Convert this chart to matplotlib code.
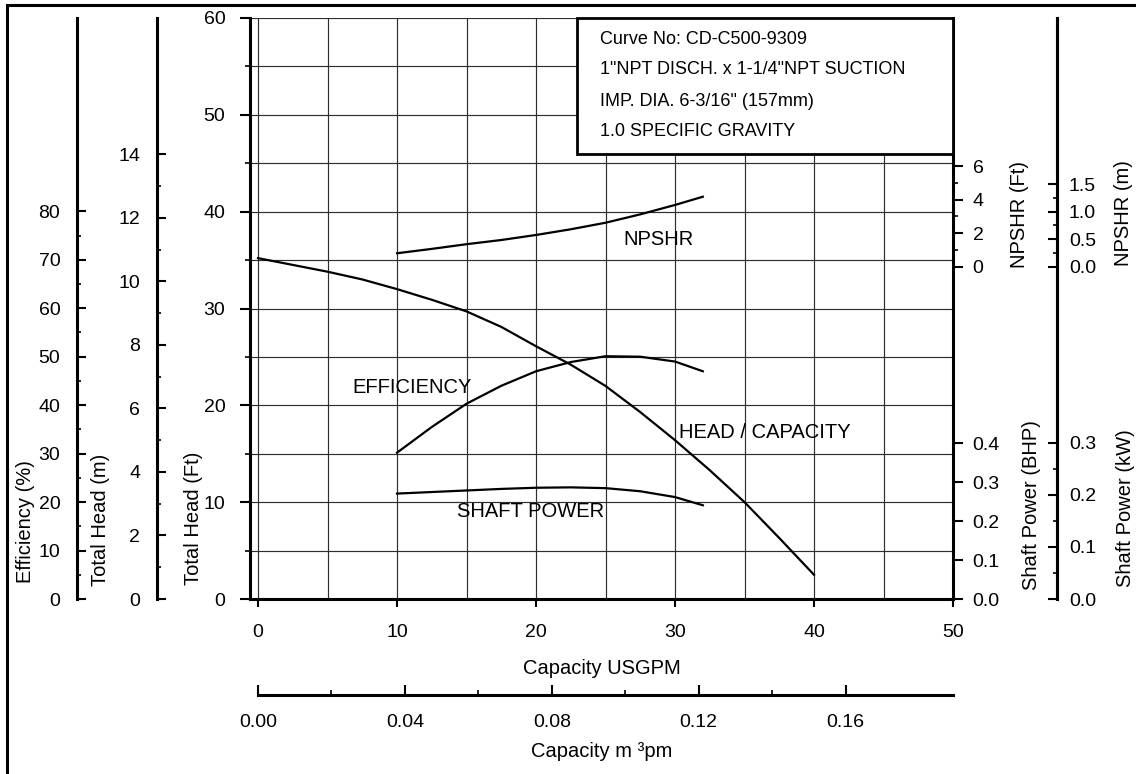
import matplotlib
matplotlib.use("Agg")
import matplotlib.pyplot as plt
from matplotlib.ticker import FixedLocator, FormatStrFormatter
from matplotlib.patches import Rectangle
from matplotlib.lines import Line2D

plt.rcParams['font.family'] = ['Liberation Sans', 'DejaVu Sans']

# ---------------- data ----------------
head_gpm = [0, 2.5, 5, 7.5, 10, 12.5, 15, 17.5, 20, 22.5, 25, 27.5, 30, 32.5, 35, 37.5, 40]
head_ft = [35.2, 34.5, 33.8, 33.0, 32.0, 30.9, 29.7, 28.1, 26.1, 24.2, 22.0, 19.3, 16.4, 13.3, 10.0, 6.3, 2.5]

curve_gpm = [10, 12.5, 15, 17.5, 20, 22.5, 25, 27.5, 30, 32]
efficiency_pct = [30.2, 35.5, 40.3, 44.0, 47.0, 48.9, 50.1, 50.0, 49.0, 47.0]
shaft_bhp = [0.271, 0.275, 0.279, 0.283, 0.286, 0.287, 0.285, 0.277, 0.262, 0.241]
npshr_ft = [0.80, 1.06, 1.34, 1.59, 1.89, 2.23, 2.62, 3.12, 3.68, 4.17]

gpm_ticks = [0, 10, 20, 30, 40, 50]
ft_ticks = [0, 10, 20, 30, 40, 50, 60]
ft_minor = [5, 15, 25, 35, 45, 55]
m_ticks = [0, 2, 4, 6, 8, 10, 12, 14]
m_minor = [1, 3, 5, 7, 9, 11, 13]
eff_ticks = [0, 10, 20, 30, 40, 50, 60, 70, 80]
eff_minor = [5, 15, 25, 35, 45, 55, 65, 75]
npshr_ft_ticks = [0, 2, 4, 6]
npshr_ft_minor = [1, 3, 5]
npshr_m_ticks = [0.0, 0.5, 1.0, 1.5]
npshr_m_minor = [0.25, 0.75, 1.25]
bhp_ticks = [0.0, 0.1, 0.2, 0.3, 0.4]
kw_ticks = [0.0, 0.1, 0.2, 0.3]
kw_minor = [0.05, 0.15, 0.25]
m3_ticks = [0.00, 0.04, 0.08, 0.12, 0.16]
m3_minor = [0.02, 0.06, 0.10, 0.14]

info_lines = ['Curve No: CD-C500-9309',
              '1"NPT DISCH. x 1-1/4"NPT SUCTION',
              'IMP. DIA. 6-3/16" (157mm)',
              '1.0 SPECIFIC GRAVITY']

FT_TO_M = 0.3048
BHP_TO_KW = 0.7457
GPM_TO_M3PM = 0.0037854

# ---------------- layout ----------------
W, H = 1136, 774
fig = plt.figure(figsize=(W / 100, H / 100), dpi=100)
ax = fig.add_axes([250 / W, 1 - 599 / H, 703 / W, 581 / H])

XMIN, XMAX = -0.58, 50
ax.set_xlim(XMIN, XMAX)
ax.set_ylim(0, 60)

SP_LW = 2.2
TICK_FS = 14
LAB_FS = 14.5
ax.spines['top'].set_visible(False)
for s in ['left', 'bottom', 'right']:
    ax.spines[s].set_linewidth(SP_LW)

ax.xaxis.set_major_locator(FixedLocator(gpm_ticks))
ax.xaxis.set_minor_locator(FixedLocator([5, 15, 25, 35, 45]))
ax.xaxis.set_major_formatter(FormatStrFormatter('%d'))
ax.yaxis.set_major_locator(FixedLocator(ft_ticks))
ax.yaxis.set_minor_locator(FixedLocator(ft_minor))
ax.yaxis.set_major_formatter(FormatStrFormatter('%d'))
ax.tick_params(axis='x', which='major', direction='out', length=5.8, width=1.5, pad=12, labelsize=TICK_FS)
ax.tick_params(axis='x', which='minor', length=0)
ax.tick_params(axis='y', which='major', direction='out', length=7.2, width=1.5, pad=10.5, labelsize=TICK_FS)
ax.tick_params(axis='y', which='minor', direction='out', length=3.6, width=1.2)
ax.grid(which='both', color='#2e2e2e', lw=0.85)
ax.set_axisbelow(True)

ax.set_xlabel('Capacity USGPM', fontsize=LAB_FS, va='center')
ax.xaxis.set_label_coords(0.5, -0.1188)
ax.set_ylabel('Total Head (Ft)', fontsize=LAB_FS, va='center', ha='center')
ax.yaxis.set_label_coords(-0.0804, 0.1394)

# head curve
ax.plot(head_gpm, head_ft, color='black', lw=1.6, zorder=4)

# info box
ax.add_patch(Rectangle((0.4651, 0.766), 0.5349, 0.234, transform=ax.transAxes,
                       facecolor='white', edgecolor='black', lw=2.0, zorder=3, clip_on=False))
for ln, yy in zip(info_lines, [0.9633, 0.9105, 0.8571, 0.8055]):
    ax.text(0.4979, yy, ln, transform=ax.transAxes, fontsize=13, ha='left', va='center', zorder=5)

# curve labels
ax.text(26.3, 36.56, 'NPSHR', fontsize=LAB_FS, ha='left', va='baseline', zorder=5)
ax.text(6.75, 21.3, 'EFFICIENCY', fontsize=LAB_FS, ha='left', va='baseline', zorder=5)
ax.text(30.3, 16.6, 'HEAD / CAPACITY', fontsize=LAB_FS, ha='left', va='baseline', zorder=5)
ax.text(14.33, 8.5, 'SHAFT POWER', fontsize=LAB_FS, ha='left', va='baseline', zorder=5)


def hide_spines(a):
    for s in a.spines.values():
        s.set_visible(False)


# efficiency axis
ax_eff = ax.twinx()
hide_spines(ax_eff)
ax_eff.set_ylim(0, 119.9)
ax_eff.spines['left'].set_visible(True)
ax_eff.spines['left'].set_position(('axes', -0.2461))
ax_eff.spines['left'].set_linewidth(SP_LW)
ax_eff.yaxis.set_ticks_position('left')
ax_eff.yaxis.set_label_position('left')
ax_eff.yaxis.set_major_locator(FixedLocator(eff_ticks))
ax_eff.yaxis.set_minor_locator(FixedLocator(eff_minor))
ax_eff.yaxis.set_major_formatter(FormatStrFormatter('%d'))
ax_eff.tick_params(axis='y', which='major', direction='in', length=6.5, width=1.5, pad=12, labelsize=TICK_FS)
ax_eff.tick_params(axis='y', which='minor', direction='in', length=3.2, width=1.2)
ax_eff.set_ylabel('Efficiency (%)', fontsize=LAB_FS, va='center', ha='center')
ax_eff.yaxis.set_label_coords(-0.3193, 0.1325)
ax_eff.plot(curve_gpm, efficiency_pct, color='black', lw=1.6)

# head (m) axis
ax_m = ax.twinx()
hide_spines(ax_m)
ax_m.set_ylim(0, 60 * FT_TO_M)
ax_m.spines['left'].set_visible(True)
ax_m.spines['left'].set_position(('axes', -0.1323))
ax_m.spines['left'].set_linewidth(SP_LW)
ax_m.yaxis.set_ticks_position('left')
ax_m.yaxis.set_label_position('left')
ax_m.yaxis.set_major_locator(FixedLocator(m_ticks))
ax_m.yaxis.set_minor_locator(FixedLocator(m_minor))
ax_m.yaxis.set_major_formatter(FormatStrFormatter('%d'))
ax_m.tick_params(axis='y', which='major', direction='in', length=6.5, width=1.5, pad=12, labelsize=TICK_FS)
ax_m.tick_params(axis='y', which='minor', direction='in', length=3.2, width=1.2)
ax_m.set_ylabel('Total Head (m)', fontsize=LAB_FS, va='center', ha='center')
ax_m.yaxis.set_label_coords(-0.2127, 0.1360)

# NPSHR (ft) axis
NP_LO, NP_HI = -19.82, 14.83
ax_np = ax.twinx()
hide_spines(ax_np)
ax_np.set_ylim(NP_LO, NP_HI)
ax_np.yaxis.set_major_locator(FixedLocator(npshr_ft_ticks))
ax_np.yaxis.set_minor_locator(FixedLocator(npshr_ft_minor))
ax_np.yaxis.set_major_formatter(FormatStrFormatter('%d'))
ax_np.tick_params(axis='y', which='major', direction='out', length=7.2, width=1.5, pad=7, labelsize=TICK_FS)
ax_np.tick_params(axis='y', which='minor', direction='out', length=3.6, width=1.2)
ax_np.set_ylabel('NPSHR (Ft)', fontsize=LAB_FS, va='center', ha='center')
ax_np.yaxis.set_label_coords(1.0953, 0.6610)
ax_np.plot(curve_gpm, npshr_ft, color='black', lw=1.6)

# NPSHR (m) axis
ax_npm = ax.twinx()
hide_spines(ax_npm)
ax_npm.set_ylim(NP_LO * FT_TO_M, NP_HI * FT_TO_M)
ax_npm.spines['right'].set_visible(True)
ax_npm.spines['right'].set_position(('axes', 1.148))
ax_npm.spines['right'].set_linewidth(SP_LW)
ax_npm.yaxis.set_major_locator(FixedLocator(npshr_m_ticks))
ax_npm.yaxis.set_minor_locator(FixedLocator(npshr_m_minor))
ax_npm.yaxis.set_major_formatter(FormatStrFormatter('%.1f'))
ax_npm.tick_params(axis='y', which='major', direction='in', length=6.5, width=1.5, pad=8.6, labelsize=TICK_FS)
ax_npm.tick_params(axis='y', which='minor', direction='in', length=3.2, width=1.2)
ax_npm.set_ylabel('NPSHR (m)', fontsize=LAB_FS, va='center', ha='center')
ax_npm.yaxis.set_label_coords(1.2432, 0.6644)

# shaft power (BHP)
BHP_HI = 1.4936
ax_bhp = ax.twinx()
hide_spines(ax_bhp)
ax_bhp.set_ylim(0, BHP_HI)
ax_bhp.yaxis.set_major_locator(FixedLocator(bhp_ticks))
ax_bhp.yaxis.set_major_formatter(FormatStrFormatter('%.1f'))
ax_bhp.tick_params(axis='y', which='major', direction='out', length=7.2, width=1.5, pad=7, labelsize=TICK_FS)
ax_bhp.set_ylabel('Shaft Power (BHP)', fontsize=LAB_FS, va='center', ha='center')
ax_bhp.yaxis.set_label_coords(1.1110, 0.1618)
ax_bhp.plot(curve_gpm, shaft_bhp, color='black', lw=1.6)

# shaft power (kW)
ax_kw = ax.twinx()
hide_spines(ax_kw)
ax_kw.set_ylim(0, BHP_HI * BHP_TO_KW)
ax_kw.spines['right'].set_visible(True)
ax_kw.spines['right'].set_position(('axes', 1.148))
ax_kw.spines['right'].set_linewidth(SP_LW)
ax_kw.yaxis.set_major_locator(FixedLocator(kw_ticks))
ax_kw.yaxis.set_minor_locator(FixedLocator(kw_minor))
ax_kw.yaxis.set_major_formatter(FormatStrFormatter('%.1f'))
ax_kw.tick_params(axis='y', which='major', direction='in', length=6.5, width=1.5, pad=8.6, labelsize=TICK_FS)
ax_kw.tick_params(axis='y', which='minor', direction='in', length=3.2, width=1.2)
ax_kw.set_ylabel('Shaft Power (kW)', fontsize=LAB_FS, va='center', ha='center')
ax_kw.yaxis.set_label_coords(1.2447, 0.1566)

# capacity m3pm axis
ax_m3 = ax.twiny()
hide_spines(ax_m3)
ax_m3.set_xlim(XMIN * GPM_TO_M3PM, XMAX * GPM_TO_M3PM)
ax_m3.xaxis.set_ticks_position('bottom')
ax_m3.xaxis.set_label_position('bottom')
ax_m3.spines['bottom'].set_visible(True)
ax_m3.spines['bottom'].set_position(('axes', -0.1652))
ax_m3.spines['bottom'].set_linewidth(SP_LW)
ax_m3.spines['bottom'].set_bounds(0, XMAX * GPM_TO_M3PM)
ax_m3.xaxis.set_major_locator(FixedLocator(m3_ticks))
ax_m3.xaxis.set_minor_locator(FixedLocator(m3_minor))
ax_m3.xaxis.set_major_formatter(FormatStrFormatter('%.2f'))
ax_m3.tick_params(axis='x', which='major', direction='in', length=7.2, width=1.5, pad=14, labelsize=TICK_FS)
ax_m3.tick_params(axis='x', which='minor', direction='in', length=3.6, width=1.2)
ax_m3.set_xlabel('Capacity m \u00b3pm', fontsize=LAB_FS, va='center')
ax_m3.xaxis.set_label_coords(0.5, -0.2633)

# figure border (top and left)
fig.add_artist(Line2D([6.7 / W, 6.7 / W], [0, 1 - 4.7 / H], transform=fig.transFigure, color='black', lw=2.2))
fig.add_artist(Line2D([6.7 / W, 1], [1 - 4.7 / H, 1 - 4.7 / H], transform=fig.transFigure, color='black', lw=2.2))

fig.savefig('out.png', dpi=100)
